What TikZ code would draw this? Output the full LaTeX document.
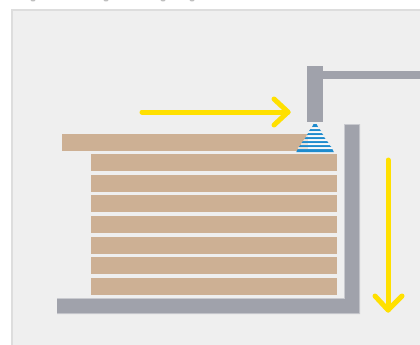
\documentclass[tikz,border=0pt]{standalone}
\definecolor{panel}{HTML}{EFEFEF}
\definecolor{frameline}{HTML}{DDDDDD}
\definecolor{steel}{HTML}{A0A2AB}
\definecolor{steeledge}{HTML}{C9CACF}
\definecolor{wood}{HTML}{CDB094}
\definecolor{flow}{HTML}{FFE000}
\definecolor{spray}{HTML}{1E8BCD}
\tikzset{
  x=1pt,y=-1pt,
  board/.style={fill=wood,draw=none},
  steelpart/.style={fill=steel,draw=none},
  flowline/.style={draw=flow,line width=5pt,line cap=round,line join=round},
  spraybar/.style={fill=spray,draw=none},
  gapbar/.style={fill=white,fill opacity=.65,draw=none}
}
\begin{document}
\begin{tikzpicture}
\useasboundingbox (0,0) rectangle (420,345);
\fill[white] (0,0) rectangle (420,345);
\foreach \cx in {33,106,163,192}{\fill[black!25] (\cx,0) ellipse [x radius=2.5pt,y radius=1.5pt];}
\fill[frameline] (11,9) rectangle (420,345);
\fill[panel] (13,11) rectangle (420,345);
% boards
\fill[board] (62,134) rectangle (308,151);
\foreach \t in {154,175,195,216,237,257,278}{\fill[board] (91,\t) rectangle (337,\t+17);}
% nozzle and pipe
\fill[steelpart] (307,66) rectangle (323,122);
\fill[steelpart] (323,71) rectangle (420,79);
% L bracket
\fill[steeledge] (344,124) -- (360,124) -- (360,314) -- (57,314) -- (57,298) -- (344,298) -- cycle;
\fill[steelpart] (345,125) -- (359,125) -- (359,313) -- (57,313) -- (57,299) -- (345,299) -- cycle;
% spray
\foreach \ya/\yb/\ha/\hb in {124/127/2/4, 129/131/6/8, 133/135/9/11, 137/139/12/14, 141/143/16/18, 145/147/19/22, 149/152/23/25}{
  \fill[spraybar] (315-\ha*.75,\ya) -- (315+\ha*.75,\ya) -- (315+\hb*.75,\yb) -- (315-\hb*.75,\yb) -- cycle;
}
\foreach \ya/\yb/\ha/\hb in {127/129/3/5, 131/133/7/9, 135/137/11/12, 139/141/14/16, 143/145/18/19, 147/149/22/23}{
  \fill[gapbar] (315-\ha*.75,\ya) -- (315+\ha*.75,\ya) -- (315+\hb*.75,\yb) -- (315-\hb*.75,\yb) -- cycle;
}
% arrows
\draw[flowline] (142,112) -- (288,112);
\draw[flowline] (274,99) -- (288,112) -- (274,125);
\draw[flowline] (388,160) -- (388,310);
\draw[flowline] (375,296) -- (388,310) -- (402,296);
\end{tikzpicture}
\end{document}
